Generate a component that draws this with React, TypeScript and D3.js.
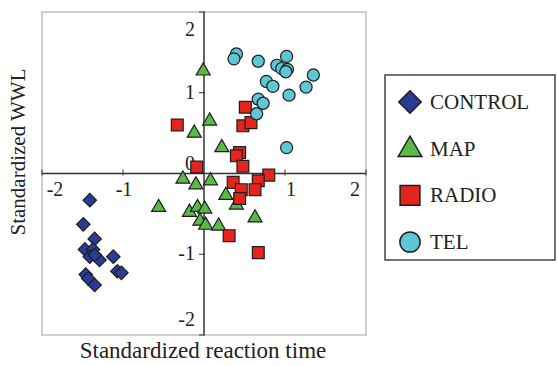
import React, { useEffect, useRef } from 'react';
import * as d3 from 'd3';

// standardized reaction time (x) / standardized WWL (y)
const controlX = [-1.41, -1.49, -1.35, -1.47, -1.37, -1.41, -1.29, -1.12, -1.07, -1.02, -1.46, -1.43, -1.35, -1.35];
const controlY = [-0.33, -0.63, -0.81, -0.94, -0.94, -1.03, -1.07, -1.03, -1.21, -1.23, -1.25, -1.30, -1.38, -1.01];
const mapX = [-0.01, 0.07, -0.12, 0.22, -0.26, -0.10, 0.08, -0.56, -0.18, -0.08, 0.01, -0.05, 0.02, 0.18, 0.27, 0.40, 0.63];
const mapY = [1.27, 0.65, 0.50, 0.32, -0.07, -0.14, -0.09, -0.42, -0.48, -0.42, -0.44, -0.59, -0.64, -0.65, -0.27, -0.39, -0.55];
const radioX = [-0.33, 0.51, 0.48, 0.58, 0.44, 0.40, 0.48, -0.09, 0.80, 0.67, 0.36, 0.46, 0.63, 0.44, 0.31, 0.67];
const radioY = [0.60, 0.82, 0.59, 0.63, 0.26, 0.22, 0.09, 0.08, -0.02, -0.09, -0.11, -0.20, -0.20, -0.31, -0.77, -0.98];
const telX = [0.40, 0.37, 0.67, 0.90, 1.02, 0.96, 1.03, 1.01, 1.35, 0.77, 0.85, 1.26, 1.05, 0.67, 0.73, 0.65, 1.02];
const telY = [1.48, 1.42, 1.39, 1.34, 1.45, 1.30, 1.29, 1.26, 1.22, 1.14, 1.08, 1.07, 0.97, 0.92, 0.87, 0.74, 0.32];

const groups = ['CONTROL', 'MAP', 'RADIO', 'TEL'];
const ticks = [-2, -1, 1, 2];

const W = 558;
const H = 365;
const serif = '"Liberation Serif", "Times New Roman", serif';

const drawChart = (svgEl: SVGSVGElement) => {
	const svg = d3.select(svgEl);
	svg.selectAll('*').remove();

	const x = d3.scaleLinear().domain([-2, 2]).range([42, 366]);
	const y = d3.scaleLinear().domain([-2, 2]).range([335, 12]);

	const series = [
		{ name: groups[0], xs: controlX, ys: controlY, fill: '#2c3b96', shape: d3.symbolSquare, rot: 45, size: 90 },
		{ name: groups[1], xs: mapX, ys: mapY, fill: '#5bb947', shape: d3.symbolTriangle, rot: 0, size: 85 },
		{ name: groups[2], xs: radioX, ys: radioY, fill: '#e5241d', shape: d3.symbolSquare, rot: 0, size: 140 },
		{ name: groups[3], xs: telX, ys: telY, fill: '#5fc6d6', shape: d3.symbolCircle, rot: 0, size: 115 },
	];

	// plot frame
	svg.append('rect')
		.attr('x', x(-2)).attr('y', y(2))
		.attr('width', x(2) - x(-2)).attr('height', y(-2) - y(2))
		.attr('fill', 'none').attr('stroke', '#a0a0a0').attr('stroke-width', 1);

	// crossing axes
	svg.append('line')
		.attr('x1', x(-2)).attr('x2', x(2)).attr('y1', y(0)).attr('y2', y(0))
		.attr('stroke', '#333').attr('stroke-width', 1.5);
	svg.append('line')
		.attr('x1', x(0)).attr('x2', x(0)).attr('y1', y(2)).attr('y2', y(-2))
		.attr('stroke', '#333').attr('stroke-width', 1.5);

	ticks.forEach((t) => {
		svg.append('line')
			.attr('x1', x(t)).attr('x2', x(t)).attr('y1', y(0) - 4).attr('y2', y(0) + 2)
			.attr('stroke', '#333').attr('stroke-width', 1);
		svg.append('line')
			.attr('x1', x(0) - 5).attr('x2', x(0) + 1).attr('y1', y(t)).attr('y2', y(t))
			.attr('stroke', '#333').attr('stroke-width', 1);
	});

	// tick labels, end ones pulled inward like the original
	const xLabelShift = (t: number) => (t === -2 ? 13 : t === 2 ? -11 : t === 1 ? 6 : 1);
	svg.append('g').selectAll('text')
		.data(ticks)
		.enter()
		.append('text')
		.attr('x', (d) => x(d) + xLabelShift(d))
		.attr('y', y(0) + 22)
		.attr('text-anchor', 'middle')
		.attr('font-family', serif).attr('font-size', 20).attr('fill', '#222')
		.text((d) => d);

	const yLabelShift = (t: number) => (t === 2 ? 18 : t === -2 ? -15 : 0);
	svg.append('g').selectAll('text')
		.data([...ticks, 0])
		.enter()
		.append('text')
		.attr('x', x(0) - 9)
		.attr('y', (d) => (d === 0 ? y(0) - 4 : y(d) + yLabelShift(d) + 6))
		.attr('text-anchor', 'end')
		.attr('font-family', serif).attr('font-size', 20).attr('fill', '#222')
		.text((d) => d);

	// points
	series.forEach((s) => {
		const sym = d3.symbol().type(s.shape).size(s.size);
		svg.append('g').selectAll('path')
			.data(d3.range(s.xs.length))
			.enter()
			.append('path')
			.attr('d', sym)
			.attr('transform', (i) => `translate(${ x(s.xs[i]) },${ y(s.ys[i]) }) rotate(${ s.rot })`)
			.attr('fill', s.fill)
			.attr('stroke', '#1e1e1e')
			.attr('stroke-width', 1.2);
	});

	// axis titles
	svg.append('text')
		.attr('x', 203).attr('y', 358)
		.attr('text-anchor', 'middle')
		.attr('font-family', serif).attr('font-size', 23).attr('fill', '#222')
		.text('Standardized reaction time');
	svg.append('text')
		.attr('transform', 'translate(25,152) rotate(-90)')
		.attr('text-anchor', 'middle')
		.attr('font-family', serif).attr('font-size', 21).attr('fill', '#222')
		.text('Standardized WWL');

	// legend
	const legend = svg.append('g');
	legend.append('rect')
		.attr('x', 385).attr('y', 75).attr('width', 170).attr('height', 185)
		.attr('fill', '#fff').attr('stroke', '#444').attr('stroke-width', 1.5);
	const legendY = d3.scalePoint<string>().domain(groups).range([102, 242]);
	series.forEach((s) => {
		const sym = d3.symbol().type(s.shape).size(s.size * 2.8);
		const cy = legendY(s.name) as number;
		legend.append('path')
			.attr('d', sym)
			.attr('transform', `translate(410,${ cy + (s.shape === d3.symbolTriangle ? 1 : 0) }) rotate(${ s.rot })`)
			.attr('fill', s.fill)
			.attr('stroke', '#1e1e1e')
			.attr('stroke-width', 1.5);
		legend.append('text')
			.attr('x', 430).attr('y', cy + 7)
			.attr('font-family', serif).attr('font-size', 21).attr('fill', '#222')
			.text(s.name);
	});
};

const App = () => {
	const ref = useRef<SVGSVGElement>(null);

	useEffect(() => {
		if (ref.current) drawChart(ref.current);
	}, []);

	return (
		<svg ref={ ref } width={ W } height={ H }
			style={ { position: 'absolute', left: 0, top: 0, background: '#fff' } }/>
	);
};

export default App;
